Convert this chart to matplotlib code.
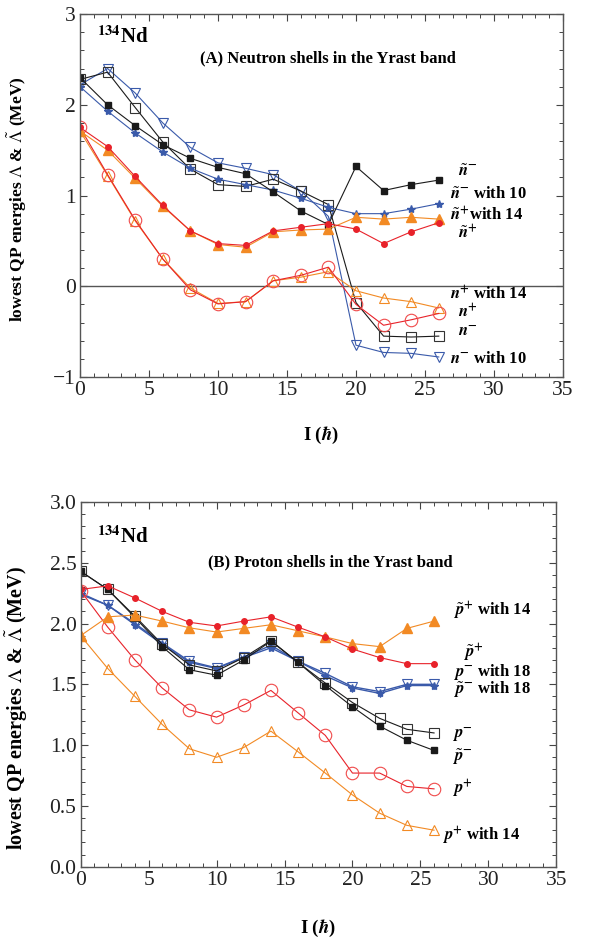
import numpy as np
import matplotlib
matplotlib.use("Agg")
import matplotlib.pyplot as plt
from matplotlib.ticker import MultipleLocator

plt.rcParams['font.family'] = ['Liberation Serif', 'DejaVu Serif']
plt.rcParams['mathtext.fontset'] = 'stix'

spin = np.arange(0, 27, 2)

# (A) neutron shells
n_tilde_minus = [2.30, 2.00, 1.77, 1.56, 1.41, 1.31, 1.24, 1.04, 0.83, 0.68, 1.32, 1.055, 1.12, 1.17]
n_minus = [2.28, 2.36, 1.97, 1.59, 1.29, 1.12, 1.10, 1.18, 1.05, 0.90, -0.18, -0.55, -0.56, -0.55]
n_minus_10 = [2.22, 2.40, 2.13, 1.80, 1.53, 1.36, 1.30, 1.23, 1.05, 0.77, -0.65, -0.73, -0.74, -0.78]
n_tilde_minus_10 = [2.20, 1.93, 1.69, 1.48, 1.30, 1.18, 1.12, 1.06, 0.97, 0.87, 0.80, 0.80, 0.85, 0.91]
n_tilde_plus = [1.75, 1.54, 1.21, 0.89, 0.61, 0.47, 0.45, 0.61, 0.65, 0.69, 0.63, 0.47, 0.60, 0.70]
n_tilde_plus_14 = [1.71, 1.50, 1.19, 0.88, 0.61, 0.46, 0.43, 0.60, 0.62, 0.63, 0.76, 0.74, 0.76, 0.74]
n_plus = [1.75, 1.23, 0.73, 0.30, -0.04, -0.195, -0.17, 0.06, 0.12, 0.21, -0.20, -0.43, -0.37, -0.30]
n_plus_14 = [1.71, 1.22, 0.72, 0.30, -0.02, -0.19, -0.17, 0.06, 0.10, 0.16, -0.05, -0.13, -0.17, -0.24]

# (B) proton shells
p_tilde_minus = [2.43, 2.28, 2.05, 1.81, 1.62, 1.575, 1.70, 1.855, 1.68, 1.49, 1.315, 1.156, 1.04, 0.956]
p_minus = [2.43, 2.28, 2.06, 1.83, 1.66, 1.61, 1.72, 1.86, 1.68, 1.51, 1.35, 1.22, 1.13, 1.10]
p_minus_18 = [2.25, 2.15, 2.00, 1.84, 1.69, 1.635, 1.725, 1.82, 1.69, 1.59, 1.48, 1.44, 1.50, 1.50]
p_tilde_minus_18 = [2.24, 2.15, 1.99, 1.83, 1.68, 1.63, 1.72, 1.80, 1.69, 1.57, 1.47, 1.425, 1.49, 1.49]
p_tilde_plus = [2.28, 2.31, 2.21, 2.10, 2.01, 1.98, 2.02, 2.055, 1.97, 1.89, 1.79, 1.72, 1.67, 1.67]
p_tilde_plus_14 = [1.90, 2.055, 2.07, 2.02, 1.965, 1.93, 1.96, 1.99, 1.94, 1.89, 1.835, 1.81, 1.96, 2.02]
p_plus = [2.27, 1.97, 1.70, 1.47, 1.29, 1.23, 1.33, 1.45, 1.265, 1.08, 0.77, 0.77, 0.66, 0.64]
p_plus_14 = [1.90, 1.63, 1.40, 1.17, 0.97, 0.90, 0.98, 1.115, 0.945, 0.77, 0.59, 0.44, 0.34, 0.30]

BLACK = '#1a1a1a'
BLUE = '#3a5aaa'
RED = '#e8222a'
ORANGE = '#f28a24'
LRED = '#f04a4a'

fig = plt.figure(figsize=(5.97, 9.40), dpi=100)
ax1 = fig.add_axes([0.134, 0.599, 0.809, 0.386])
ax2 = fig.add_axes([0.135, 0.078, 0.797, 0.388])

YLABEL = r'lowest QP energies $\Lambda$ & $\tilde{\Lambda}$ (MeV)'


def style_axes(ax, ymaj, ymin):
    ax.xaxis.set_major_locator(MultipleLocator(5))
    ax.xaxis.set_minor_locator(MultipleLocator(1))
    ax.yaxis.set_major_locator(MultipleLocator(ymaj))
    ax.yaxis.set_minor_locator(MultipleLocator(ymin))
    ax.tick_params(which='both', direction='in', top=True, right=True,
                   colors='#444444', labelcolor='#222222', labelsize=15.5)
    ax.tick_params(which='major', length=5, width=0.8, pad=3)
    ax.tick_params(which='minor', length=3, width=0.7)
    for s in ax.spines.values():
        s.set_color('#555555')
        s.set_linewidth(1.0)
    ax.set_xlim(0, 35)
    ax.set_xlabel(r'I ($\mathbfit{\hbar}$)', fontsize=13.5, fontweight='bold')


lw = 0.8
# top panel
ax1.axhline(0, color='#555555', lw=1.0)
ax1.plot(spin, n_minus_10, color=BLUE, lw=lw, marker='v', ms=7.5, mfc='none', mec=BLUE, mew=0.8)
ax1.plot(spin, n_minus, color=BLACK, lw=lw, marker='s', ms=7, mfc='none', mec='#333333', mew=0.8)
ax1.plot(spin, n_tilde_minus_10, color=BLUE, lw=lw, marker='*', ms=6)
ax1.plot(spin, n_tilde_minus, color=BLACK, lw=lw, marker='s', ms=4.5)
ax1.plot(spin, n_plus_14, color=ORANGE, lw=lw, marker='^', ms=7.5, mfc='none', mec=ORANGE, mew=0.8)
ax1.plot(spin, n_plus, color=RED, lw=lw, marker='o', ms=9, mfc='none', mec=LRED, mew=0.8)
ax1.plot(spin, n_tilde_plus_14, color=ORANGE, lw=lw, marker='^', ms=6.5)
ax1.plot(spin, n_tilde_plus, color=RED, lw=lw, marker='o', ms=4)
style_axes(ax1, 1, 0.2)
ax1.set_ylim(-1, 3)
ax1.set_yticks([-1, 0, 1, 2, 3])
ax1.set_yticklabels(['\u22121', '0', '1', '2', '3'])
ax1.set_ylabel(YLABEL, fontsize=12.5, fontweight='bold')
ax1.yaxis.set_label_coords(-0.106, 0.49)
ax1.xaxis.set_label_coords(0.5, -0.133)

ax1.text(1.2, 2.75, r'$^{\mathbf{134}}$Nd', fontsize=15, fontweight='bold', va='center')
ax1.text(18.0, 2.51, '(A) Neutron shells in the Yrast band', fontsize=12,
         fontweight='bold', ha='center', va='center')

top_labels = [
    (27.4, 1.26, r'$\tilde{\mathbfit{n}}^{\mathbf{-}}$'),
    (26.8, 1.01, r'$\tilde{\mathbfit{n}}^{\mathbf{-}}$ with 10'),
    (26.8, 0.78, r'$\tilde{\mathbfit{n}}^{\mathbf{+}}$with 14'),
    (27.4, 0.58, r'$\tilde{\mathbfit{n}}^{\mathbf{+}}$'),
    (26.8, -0.09, r'$\mathbfit{n}^{\mathbf{+}}$ with 14'),
    (27.4, -0.29, r'$\mathbfit{n}^{\mathbf{+}}$'),
    (27.4, -0.50, r'$\mathbfit{n}^{\mathbf{-}}$'),
    (26.8, -0.80, r'$\mathbfit{n}^{\mathbf{-}}$ with 10'),
]
for x, y, s in top_labels:
    ax1.text(x, y, s, fontsize=12, fontweight='bold', va='center', ha='left')

# bottom panel
ax2.plot(spin, p_minus_18, color=BLUE, lw=1.0, marker='v', ms=7.5, mfc='none', mec=BLUE, mew=0.8)
ax2.plot(spin, p_tilde_minus_18, color=BLUE, lw=1.0, marker='*', ms=6)
ax2.plot(spin, p_minus, color=BLACK, lw=lw, marker='s', ms=7, mfc='none', mec='#333333', mew=0.8)
ax2.plot(spin, p_tilde_minus, color=BLACK, lw=lw, marker='s', ms=4.5)
ax2.plot(spin, p_plus_14, color=ORANGE, lw=lw, marker='^', ms=7.5, mfc='none', mec=ORANGE, mew=0.8)
ax2.plot(spin, p_plus, color=RED, lw=lw, marker='o', ms=9, mfc='none', mec=LRED, mew=0.8)
ax2.plot(spin, p_tilde_plus_14, color=ORANGE, lw=lw, marker='^', ms=6.5)
ax2.plot(spin, p_tilde_plus, color=RED, lw=lw, marker='o', ms=4)
style_axes(ax2, 0.5, 0.1)
ax2.set_ylim(0, 3)
ax2.set_yticks([0, 0.5, 1.0, 1.5, 2.0, 2.5, 3.0])
ax2.set_yticklabels(['0.0', '0.5', '1.0', '1.5', '2.0', '2.5', '3.0'])
ax2.set_ylabel(YLABEL, fontsize=14.5, fontweight='bold')
ax2.yaxis.set_label_coords(-0.106, 0.436)
ax2.xaxis.set_label_coords(0.5, -0.141)

ax2.text(1.2, 2.71, r'$^{\mathbf{134}}$Nd', fontsize=15, fontweight='bold', va='center')
ax2.text(18.4, 2.50, '(B) Proton shells in the Yrast band', fontsize=12,
         fontweight='bold', ha='center', va='center')

bottom_labels = [
    (27.4, 2.10, r'$\tilde{\mathbfit{p}}^{\mathbf{+}}$ with 14'),
    (28.1, 1.76, r'$\tilde{\mathbfit{p}}^{\mathbf{+}}$'),
    (27.4, 1.60, r'$\mathbfit{p}^{\mathbf{-}}$ with 18'),
    (27.4, 1.45, r'$\tilde{\mathbfit{p}}^{\mathbf{-}}$ with 18'),
    (27.3, 1.09, r'$\mathbfit{p}^{\mathbf{-}}$'),
    (27.3, 0.90, r'$\tilde{\mathbfit{p}}^{\mathbf{-}}$'),
    (27.3, 0.64, r'$\mathbfit{p}^{\mathbf{+}}$'),
    (26.6, 0.25, r'$\mathbfit{p}^{\mathbf{+}}$ with 14'),
]
for x, y, s in bottom_labels:
    ax2.text(x, y, s, fontsize=12, fontweight='bold', va='center', ha='left')

fig.savefig('out.png', dpi=100)
